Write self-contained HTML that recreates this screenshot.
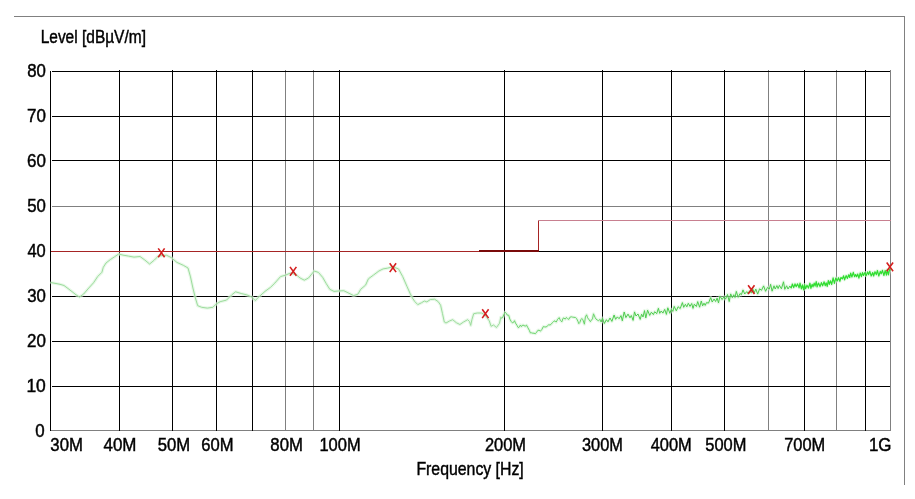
<!DOCTYPE html>
<html><head><meta charset="utf-8"><title>Level plot</title>
<style>html,body{margin:0;padding:0;background:#fff;} body{width:915px;height:499px;overflow:hidden;} svg{display:block;}</style>
</head><body>
<svg width="915" height="499" viewBox="0 0 915 499" shape-rendering="crispEdges">
<path d="M14,16.5 H904.5 V485" fill="none" stroke="#808080" stroke-width="1"/>
<line x1="51" y1="430.5" x2="891" y2="430.5" stroke="#808080" stroke-width="1"/>
<line x1="52" y1="206.5" x2="891" y2="206.5" stroke="#808080" stroke-width="1"/>
<line x1="285.5" y1="70" x2="285.5" y2="431" stroke="#808080" stroke-width="1"/>
<line x1="313.5" y1="70" x2="313.5" y2="431" stroke="#808080" stroke-width="1"/>
<line x1="768.5" y1="70" x2="768.5" y2="431" stroke="#808080" stroke-width="1"/>
<line x1="836.5" y1="70" x2="836.5" y2="431" stroke="#808080" stroke-width="1"/>
<line x1="890.5" y1="70" x2="890.5" y2="431" stroke="#808080" stroke-width="1"/>
<line x1="52" y1="71.5" x2="890" y2="71.5" stroke="#000" stroke-width="1"/>
<line x1="52" y1="116.5" x2="890" y2="116.5" stroke="#000" stroke-width="1"/>
<line x1="52" y1="160.5" x2="890" y2="160.5" stroke="#000" stroke-width="1"/>
<line x1="52" y1="251.5" x2="890" y2="251.5" stroke="#000" stroke-width="1"/>
<line x1="52" y1="296.5" x2="890" y2="296.5" stroke="#000" stroke-width="1"/>
<line x1="52" y1="341.5" x2="890" y2="341.5" stroke="#000" stroke-width="1"/>
<line x1="52" y1="386.5" x2="890" y2="386.5" stroke="#000" stroke-width="1"/>
<line x1="119.5" y1="70" x2="119.5" y2="431" stroke="#000" stroke-width="1"/>
<line x1="172.5" y1="70" x2="172.5" y2="431" stroke="#000" stroke-width="1"/>
<line x1="216.5" y1="70" x2="216.5" y2="431" stroke="#000" stroke-width="1"/>
<line x1="252.5" y1="70" x2="252.5" y2="431" stroke="#000" stroke-width="1"/>
<line x1="339.5" y1="70" x2="339.5" y2="431" stroke="#000" stroke-width="1"/>
<line x1="504.5" y1="70" x2="504.5" y2="431" stroke="#000" stroke-width="1"/>
<line x1="602.5" y1="70" x2="602.5" y2="431" stroke="#000" stroke-width="1"/>
<line x1="671.5" y1="70" x2="671.5" y2="431" stroke="#000" stroke-width="1"/>
<line x1="724.5" y1="70" x2="724.5" y2="431" stroke="#000" stroke-width="1"/>
<line x1="804.5" y1="70" x2="804.5" y2="431" stroke="#000" stroke-width="1"/>
<line x1="865.5" y1="70" x2="865.5" y2="431" stroke="#000" stroke-width="1"/>
<line x1="50.5" y1="71" x2="50.5" y2="431" stroke="#000" stroke-width="1"/>
<path d="M51,251.5 H538.5 V220" fill="none" stroke="#a62424" stroke-width="1"/>
<line x1="538" y1="220.5" x2="891" y2="220.5" stroke="#c88090" stroke-width="1"/>
<rect x="479" y="250" width="60" height="2" fill="#7a0a0a"/>
<g shape-rendering="auto" fill="none" stroke-linejoin="round">
<path d="M50.5,282.5 L56.0,283.5 L60.0,284.3 L64.0,285.5 L68.0,288.5 L72.0,291.6 L76.0,294.8 L79.5,297.0 L83.7,294.0 L87.9,289.0 L93.5,282.8 L97.7,276.5 L101.9,272.3 L103.3,267.3 L106.0,263.0 L110.3,259.6 L114.5,256.8 L118.7,254.0 L123.0,255.1 L128.5,256.1 L134.0,257.1 L140.0,256.5 L144.8,260.0 L149.6,264.0 L154.4,260.0 L158.4,256.0 L166.4,255.2 L171.3,257.6 L176.9,262.4 L183.3,265.3 L188.0,268.0 L190.5,276.9 L192.9,288.0 L195.3,297.7 L197.7,305.7 L201.7,307.3 L207.3,308.1 L212.9,307.3 L216.1,304.1 L220.1,301.7 L226.5,300.1 L232.1,294.5 L235.6,291.8 L241.2,293.5 L246.8,294.9 L251.7,297.0 L255.2,300.5 L259.5,296.3 L265.0,291.4 L270.7,287.2 L274.9,283.0 L280.5,276.6 L285.4,275.2 L290.3,273.1 L295.9,274.5 L300.1,278.0 L304.3,280.2 L308.5,278.0 L314.2,271.0 L318.4,272.4 L322.6,277.3 L326.3,283.7 L329.8,289.3 L334.0,291.4 L338.2,291.0 L343.8,290.7 L348.0,292.8 L353.7,295.6 L357.9,294.2 L360.7,289.3 L365.6,285.1 L368.4,278.8 L373.3,275.2 L378.9,271.0 L383.1,268.9 L387.3,268.2 L392.9,266.8 L398.5,268.9 L402.7,276.6 L407.0,286.5 L410.0,293.2 L412.4,298.0 L414.8,301.6 L417.8,304.6 L421.4,302.8 L424.4,301.0 L426.8,301.9 L430.4,299.5 L434.6,299.2 L438.2,301.6 L440.6,305.2 L442.5,313.7 L444.3,322.0 L446.0,323.0 L449.7,320.9 L452.7,319.7 L456.3,322.7 L459.9,324.5 L463.5,322.0 L467.7,319.7 L469.5,321.5 L470.7,325.4 L471.9,319.7 L473.7,313.7 L477.3,313.0 L481.5,313.0 L485.0,315.0 L489.3,320.9 L491.1,326.3 L493.5,325.0 L496.5,327.5 L499.5,323.3 L500.7,317.9 L500.7,317.3 L501.7,318.1 L502.7,317.5 L503.8,314.5 L505.1,312.3 L506.3,313.3 L507.2,315.1 L508.7,315.2 L509.8,319.1 L511.3,321.6 L512.5,322.9 L513.4,322.5 L514.5,320.7 L515.5,323.1 L517.0,325.4 L518.3,327.7 L519.5,326.9 L520.4,325.0 L521.5,326.6 L522.7,325.1 L524.0,325.4 L525.1,326.3 L526.5,325.1 L527.8,327.6 L529.3,330.3 L530.4,332.9 L531.4,332.8 L532.8,333.2 L534.0,333.2 L535.4,333.7 L536.7,332.1 L537.8,330.4 L539.1,330.2 L540.4,331.2 L541.9,329.4 L543.3,326.6 L544.7,326.9 L546.3,327.0 L547.4,325.8 L548.7,324.8 L550.0,325.0 L550.9,324.5 L552.4,322.7 L553.5,321.5 L555.0,320.8 L556.2,322.1 L557.7,319.2 L559.2,317.6 L560.4,320.5 L561.9,321.8 L562.9,318.5 L564.0,317.9 L565.2,319.2 L566.3,317.5 L567.5,318.6 L568.8,319.4 L570.2,317.0 L571.5,316.8 L572.4,317.1 L573.9,317.3 L575.4,317.5 L576.5,318.4 L577.9,321.2 L578.8,323.7 L579.8,322.5 L580.8,319.8 L581.8,318.5 L582.9,319.8 L584.4,324.2 L585.4,316.9 L586.6,314.8 L587.6,317.8 L589.2,319.9 L590.4,321.7 L591.4,320.1 L592.5,318.9 L593.5,313.8 L595.0,317.3 L596.0,319.1 L597.0,319.8 L598.6,320.8 L599.9,319.3 L601.1,322.0 L602.5,318.1 L604.3,323.5 L606.4,319.7 L608.0,321.8 L610.0,318.0 L611.9,321.4 L614.1,315.0 L615.6,319.3 L617.3,316.9 L619.1,318.7 L621.0,315.6 L622.3,320.8 L624.2,312.0 L625.9,317.6 L628.0,314.1 L630.0,317.8 L631.3,315.5 L633.1,320.4 L634.5,311.9 L636.0,316.0 L638.0,314.0 L640.2,319.4 L641.6,314.2 L643.0,317.0 L644.5,310.6 L645.8,317.9 L647.6,310.2 L649.7,315.4 L651.4,312.2 L653.4,314.6 L654.7,311.7 L656.7,313.7 L658.4,308.3 L659.7,313.3 L661.2,311.0 L662.9,313.1 L664.7,309.4 L666.4,314.4 L667.8,307.8 L669.9,313.3 L671.3,309.3 L672.8,311.4 L674.2,306.4 L676.3,310.8 L678.1,306.7 L680.2,308.6 L682.4,302.6 L683.7,307.3 L685.4,304.3 L686.8,306.8 L688.3,303.3 L690.0,306.4 L691.7,303.5 L693.0,308.4 L694.3,304.2 L696.4,306.5 L697.7,301.6 L699.6,307.2 L701.3,301.0 L702.6,305.9 L704.0,303.2 L705.2,305.4 L706.5,302.6 L708.5,303.1 L710.7,297.6 L712.2,302.0 L714.1,299.0 L715.6,301.5 L717.1,298.1 L718.5,302.9 L719.9,296.2 L722.1,299.5 L724.0,296.7 L725.5,299.2 L727.5,294.5 L729.2,301.6 L730.7,293.9 L732.3,297.7 L733.8,294.7 L735.0,297.5 L736.3,291.4 L738.2,297.3 L740.0,293.5 L741.4,294.7 L743.0,289.9 L744.7,294.0 L746.8,291.6 L748.0,293.5 L749.5,291.2 L751.5,292.8 L752.7,288.8 L754.3,292.7 L755.8,289.1 L757.7,294.1 L759.6,288.8 L761.5,290.3 L763.6,285.9 L765.6,291.3 L767.5,287.4 L769.3,289.1 L770.6,284.3 L772.1,291.2 L774.0,285.8 L775.2,289.0 L776.9,285.6 L778.1,288.6 L779.4,285.4 L781.4,288.8 L783.5,281.8 L784.8,289.3 L786.6,285.8 L788.0,289.0 L789.9,286.0 L791.1,288.2 L792.4,284.0 L793.7,287.6 L795.0,283.9 L796.1,286.6 L797.6,283.9 L799.1,287.8 L800.0,283.1 L801.4,288.8 L802.5,284.8 L803.6,289.8 L804.6,284.7 L805.6,288.7 L807.0,285.2 L808.4,288.1 L809.9,283.2 L810.9,288.4 L812.1,284.3 L813.0,286.9 L814.2,283.1 L815.1,286.2 L816.2,281.6 L817.1,286.9 L818.5,283.0 L820.0,286.6 L821.4,282.6 L822.6,285.8 L824.1,281.8 L825.2,285.7 L826.2,282.8 L827.2,286.4 L828.3,280.5 L829.3,284.3 L830.5,280.8 L831.7,284.5 L833.1,277.8 L834.4,283.3 L835.8,278.0 L837.2,280.9 L838.5,277.7 L839.9,281.3 L840.9,277.5 L842.4,278.8 L843.6,275.8 L844.6,279.8 L846.1,275.6 L847.4,278.4 L848.7,274.8 L849.7,277.5 L850.7,273.1 L851.9,277.0 L853.3,272.4 L854.5,276.7 L855.5,274.6 L856.6,276.6 L857.7,274.0 L858.9,278.1 L860.2,273.0 L861.4,276.6 L862.5,272.6 L863.5,275.5 L864.9,272.5 L866.1,275.7 L867.6,271.9 L868.6,274.6 L869.8,271.3 L871.2,276.0 L872.7,272.5 L873.6,276.0 L875.0,271.7 L876.3,274.6 L877.4,270.5 L878.8,276.0 L880.3,271.4 L881.2,273.8 L882.5,270.3 L883.9,275.5 L885.2,270.5 L886.4,275.1 L887.3,269.7 L888.4,274.8 L889.6,269.5 L890.5,270.5" stroke="#d8f4d8" stroke-width="3.2" opacity="0.6"/>
<path d="M50.5,282.5 L56.0,283.5 L60.0,284.3 L64.0,285.5 L68.0,288.5 L72.0,291.6 L76.0,294.8 L79.5,297.0 L83.7,294.0 L87.9,289.0 L93.5,282.8 L97.7,276.5 L101.9,272.3 L103.3,267.3 L106.0,263.0 L110.3,259.6 L114.5,256.8 L118.7,254.0 L123.0,255.1 L128.5,256.1 L134.0,257.1 L140.0,256.5 L144.8,260.0 L149.6,264.0 L154.4,260.0 L158.4,256.0 L166.4,255.2 L171.3,257.6 L176.9,262.4 L183.3,265.3 L188.0,268.0 L190.5,276.9 L192.9,288.0 L195.3,297.7 L197.7,305.7 L201.7,307.3 L207.3,308.1 L212.9,307.3 L216.1,304.1 L220.1,301.7 L226.5,300.1 L232.1,294.5 L235.6,291.8 L241.2,293.5 L246.8,294.9 L251.7,297.0 L255.2,300.5 L259.5,296.3 L265.0,291.4 L270.7,287.2 L274.9,283.0 L280.5,276.6 L285.4,275.2 L290.3,273.1 L295.9,274.5 L300.1,278.0 L304.3,280.2 L308.5,278.0 L314.2,271.0 L318.4,272.4 L322.6,277.3 L326.3,283.7 L329.8,289.3 L334.0,291.4 L338.2,291.0 L343.8,290.7 L348.0,292.8 L353.7,295.6 L357.9,294.2 L360.7,289.3 L365.6,285.1 L368.4,278.8 L373.3,275.2 L378.9,271.0 L383.1,268.9 L387.3,268.2 L392.9,266.8 L398.5,268.9 L402.7,276.6 L407.0,286.5 L410.0,293.2 L412.4,298.0 L414.8,301.6 L417.8,304.6 L421.4,302.8 L424.4,301.0 L426.8,301.9 L430.4,299.5 L434.6,299.2 L438.2,301.6 L440.6,305.2 L442.5,313.7 L444.3,322.0 L446.0,323.0 L449.7,320.9 L452.7,319.7 L456.3,322.7 L459.9,324.5 L463.5,322.0 L467.7,319.7 L469.5,321.5 L470.7,325.4 L471.9,319.7 L473.7,313.7 L477.3,313.0 L481.5,313.0 L485.0,315.0 L489.3,320.9 L491.1,326.3 L493.5,325.0 L496.5,327.5 L499.5,323.3 L500.7,317.9 L500.7,317.3" stroke="#9cdc9c" stroke-width="1.0"/>
<path d="M500.7,317.3 L501.7,318.1 L502.7,317.5 L503.8,314.5 L505.1,312.3 L506.3,313.3 L507.2,315.1 L508.7,315.2 L509.8,319.1 L511.3,321.6 L512.5,322.9 L513.4,322.5 L514.5,320.7 L515.5,323.1 L517.0,325.4 L518.3,327.7 L519.5,326.9 L520.4,325.0 L521.5,326.6 L522.7,325.1 L524.0,325.4 L525.1,326.3 L526.5,325.1 L527.8,327.6 L529.3,330.3 L530.4,332.9 L531.4,332.8 L532.8,333.2 L534.0,333.2 L535.4,333.7 L536.7,332.1 L537.8,330.4 L539.1,330.2 L540.4,331.2 L541.9,329.4 L543.3,326.6 L544.7,326.9 L546.3,327.0 L547.4,325.8 L548.7,324.8 L550.0,325.0 L550.9,324.5 L552.4,322.7 L553.5,321.5 L555.0,320.8 L556.2,322.1 L557.7,319.2 L559.2,317.6 L560.4,320.5 L561.9,321.8 L562.9,318.5 L564.0,317.9 L565.2,319.2 L566.3,317.5 L567.5,318.6 L568.8,319.4 L570.2,317.0 L571.5,316.8 L572.4,317.1 L573.9,317.3 L575.4,317.5 L576.5,318.4 L577.9,321.2 L578.8,323.7 L579.8,322.5 L580.8,319.8 L581.8,318.5 L582.9,319.8 L584.4,324.2 L585.4,316.9 L586.6,314.8 L587.6,317.8 L589.2,319.9 L590.4,321.7 L591.4,320.1 L592.5,318.9 L593.5,313.8 L595.0,317.3 L596.0,319.1 L597.0,319.8 L598.6,320.8 L599.9,319.3 L601.1,322.0" stroke="#6ad46a" stroke-width="1.0"/>
<path d="M601.1,322.0 L602.5,318.1 L604.3,323.5 L606.4,319.7 L608.0,321.8 L610.0,318.0 L611.9,321.4 L614.1,315.0 L615.6,319.3 L617.3,316.9 L619.1,318.7 L621.0,315.6 L622.3,320.8 L624.2,312.0 L625.9,317.6 L628.0,314.1 L630.0,317.8 L631.3,315.5 L633.1,320.4 L634.5,311.9 L636.0,316.0 L638.0,314.0 L640.2,319.4 L641.6,314.2 L643.0,317.0 L644.5,310.6 L645.8,317.9 L647.6,310.2 L649.7,315.4 L651.4,312.2 L653.4,314.6 L654.7,311.7 L656.7,313.7 L658.4,308.3 L659.7,313.3 L661.2,311.0 L662.9,313.1 L664.7,309.4 L666.4,314.4 L667.8,307.8 L669.9,313.3 L671.3,309.3 L672.8,311.4 L674.2,306.4 L676.3,310.8 L678.1,306.7 L680.2,308.6 L682.4,302.6 L683.7,307.3 L685.4,304.3 L686.8,306.8 L688.3,303.3 L690.0,306.4 L691.7,303.5 L693.0,308.4 L694.3,304.2 L696.4,306.5 L697.7,301.6 L699.6,307.2 L701.3,301.0 L702.6,305.9 L704.0,303.2 L705.2,305.4 L706.5,302.6 L708.5,303.1 L710.7,297.6 L712.2,302.0 L714.1,299.0 L715.6,301.5 L717.1,298.1 L718.5,302.9 L719.9,296.2 L722.1,299.5 L724.0,296.7 L725.5,299.2 L727.5,294.5 L729.2,301.6 L730.7,293.9 L732.3,297.7 L733.8,294.7 L735.0,297.5 L736.3,291.4 L738.2,297.3 L740.0,293.5 L741.4,294.7 L743.0,289.9 L744.7,294.0 L746.8,291.6 L748.0,293.5 L749.5,291.2 L751.5,292.8 L752.7,288.8 L754.3,292.7 L755.8,289.1 L757.7,294.1 L759.6,288.8 L761.5,290.3 L763.6,285.9 L765.6,291.3 L767.5,287.4 L769.3,289.1 L770.6,284.3 L772.1,291.2 L774.0,285.8 L775.2,289.0 L776.9,285.6 L778.1,288.6 L779.4,285.4 L781.4,288.8 L783.5,281.8 L784.8,289.3 L786.6,285.8 L788.0,289.0 L789.9,286.0 L791.1,288.2" stroke="#4ccc4c" stroke-width="1.0"/>
<path d="M791.1,288.2 L792.4,284.0 L793.7,287.6 L795.0,283.9 L796.1,286.6 L797.6,283.9 L799.1,287.8 L800.0,283.1 L801.4,288.8 L802.5,284.8 L803.6,289.8 L804.6,284.7 L805.6,288.7 L807.0,285.2 L808.4,288.1 L809.9,283.2 L810.9,288.4 L812.1,284.3 L813.0,286.9 L814.2,283.1 L815.1,286.2 L816.2,281.6 L817.1,286.9 L818.5,283.0 L820.0,286.6 L821.4,282.6 L822.6,285.8 L824.1,281.8 L825.2,285.7 L826.2,282.8 L827.2,286.4 L828.3,280.5 L829.3,284.3 L830.5,280.8 L831.7,284.5 L833.1,277.8 L834.4,283.3 L835.8,278.0 L837.2,280.9 L838.5,277.7 L839.9,281.3 L840.9,277.5 L842.4,278.8 L843.6,275.8 L844.6,279.8 L846.1,275.6 L847.4,278.4 L848.7,274.8 L849.7,277.5 L850.7,273.1 L851.9,277.0 L853.3,272.4 L854.5,276.7 L855.5,274.6 L856.6,276.6 L857.7,274.0 L858.9,278.1 L860.2,273.0 L861.4,276.6 L862.5,272.6 L863.5,275.5 L864.9,272.5 L866.1,275.7 L867.6,271.9 L868.6,274.6 L869.8,271.3 L871.2,276.0 L872.7,272.5 L873.6,276.0 L875.0,271.7 L876.3,274.6 L877.4,270.5 L878.8,276.0 L880.3,271.4 L881.2,273.8 L882.5,270.3 L883.9,275.5 L885.2,270.5 L886.4,275.1 L887.3,269.7 L888.4,274.8 L889.6,269.5 L890.5,270.5" stroke="#30dd30" stroke-width="1.2"/>
</g>
<g stroke="#d41e1e" stroke-width="1.6" shape-rendering="auto" stroke-linecap="butt">
<path d="M158.2,248.4 L164.6,257.2 M164.6,248.4 L158.2,257.2"/>
<path d="M290.0,266.9 L296.4,275.7 M296.4,266.9 L290.0,275.7"/>
<path d="M389.7,263.3 L396.1,272.1 M396.1,263.3 L389.7,272.1"/>
<path d="M482.2,309.3 L488.6,318.1 M488.6,309.3 L482.2,318.1"/>
<path d="M748.1,285.2 L754.5,294.0 M754.5,285.2 L748.1,294.0"/>
<path d="M886.7,262.5 L893.1,271.3 M893.1,262.5 L886.7,271.3"/>
</g>
<g font-family="Liberation Sans, Arial, sans-serif" fill="#000" stroke="#000" stroke-width="0.45">
<text font-size="18.59" transform="translate(50.33,450.51) scale(0.901,1)">30M</text>
<text font-size="18.59" transform="translate(103.46,450.51) scale(0.912,1)">40M</text>
<text font-size="18.59" transform="translate(157.73,450.51) scale(0.898,1)">50M</text>
<text font-size="18.59" transform="translate(201.27,450.51) scale(0.892,1)">60M</text>
<text font-size="18.59" transform="translate(270.33,450.51) scale(0.901,1)">80M</text>
<text font-size="18.59" transform="translate(319.38,450.51) scale(0.887,1)">100M</text>
<text font-size="18.59" transform="translate(484.88,450.51) scale(0.885,1)">200M</text>
<text font-size="18.59" transform="translate(581.94,450.51) scale(0.881,1)">300M</text>
<text font-size="18.59" transform="translate(650.67,450.51) scale(0.883,1)">400M</text>
<text font-size="18.59" transform="translate(705.24,450.51) scale(0.884,1)">500M</text>
<text font-size="18.59" transform="translate(784.18,450.51) scale(0.883,1)">700M</text>
<text font-size="18.59" transform="translate(868.94,450.51) scale(0.912,1)">1G</text>
<text font-size="17.75" transform="translate(27.13,77.22) scale(0.946,1)">80</text>
<text font-size="17.75" transform="translate(26.95,121.50) scale(0.956,1)">70</text>
<text font-size="17.75" transform="translate(26.95,166.57) scale(0.956,1)">60</text>
<text font-size="17.75" transform="translate(27.13,211.65) scale(0.946,1)">50</text>
<text font-size="17.75" transform="translate(27.47,256.72) scale(0.928,1)">40</text>
<text font-size="17.75" transform="translate(27.13,301.80) scale(0.946,1)">30</text>
<text font-size="17.75" transform="translate(26.95,346.87) scale(0.956,1)">20</text>
<text font-size="17.75" transform="translate(26.40,391.95) scale(0.985,1)">10</text>
<text font-size="17.75" transform="translate(35.33,437.02) scale(0.951,1)">0</text>
<text font-size="18.55" transform="translate(40.66,43.40) scale(0.835,1)">Level [dBµV/m]</text>
<text font-size="18.41" transform="translate(416.43,474.70) scale(0.861,1)">Frequency [Hz]</text>
</g>
</svg>
</body></html>
